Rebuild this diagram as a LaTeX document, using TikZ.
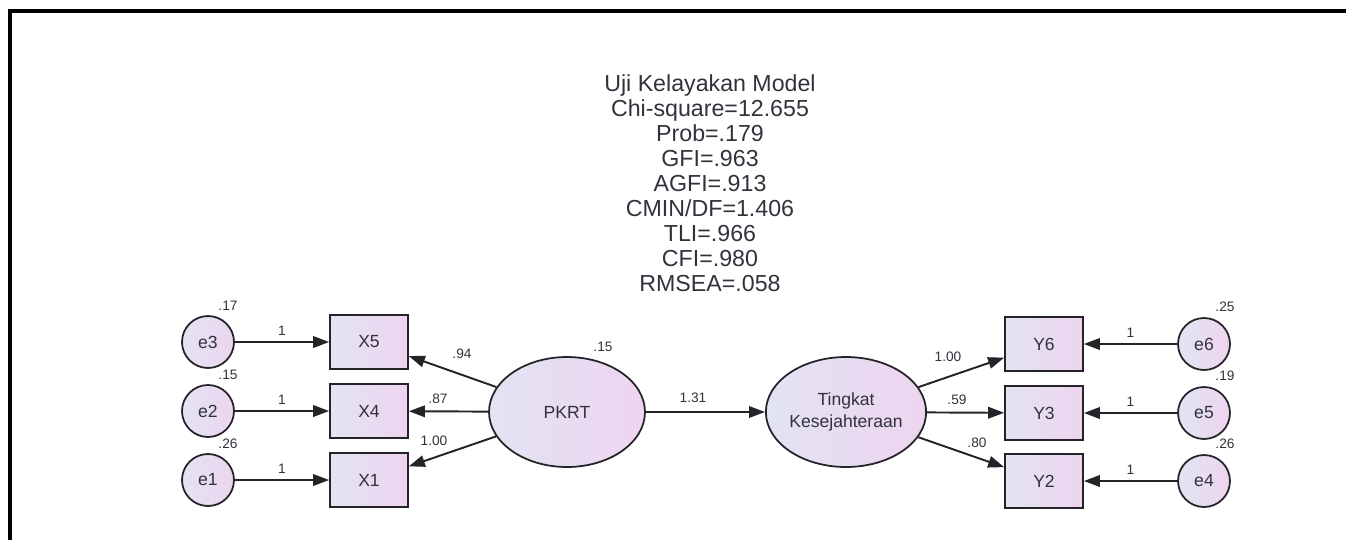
\documentclass[tikz,border=0pt]{standalone}
\usepackage{fontspec}
\setmainfont{Liberation Sans}
\usetikzlibrary{arrows.meta,shapes.geometric}

\definecolor{amosL}{RGB}{226,228,242}
\definecolor{amosR}{RGB}{238,212,240}
\definecolor{amosLine}{RGB}{35,35,40}
\definecolor{amosText}{RGB}{50,50,60}

\begin{document}
\begin{tikzpicture}[x=0.02cm, y=-0.02cm,
		obs/.style={draw=amosLine, line width=1pt, left color=amosL, right color=amosR,
			minimum width=1.56cm, minimum height=1.08cm, inner sep=0pt,
			font=\fontsize{10}{12}\selectfont, text=amosText},
		err/.style={circle, draw=amosLine, line width=1pt, left color=amosL, right color=amosR,
			minimum size=1.04cm, inner sep=0pt,
			font=\fontsize{10}{12}\selectfont, text=amosText},
		lat/.style={ellipse, draw=amosLine, line width=1pt, left color=amosL, right color=amosR,
			minimum width=3.12cm, minimum height=2.2cm, inner sep=0pt, align=center,
			font=\fontsize{10}{12.5}\selectfont, text=amosText},
		pth/.style={-{Triangle[length=3.2mm,width=2.3mm]}, line width=1.1pt, draw=amosLine},
		est/.style={font=\fontsize{7.8}{9}\selectfont, text=amosText, inner sep=1pt}]
		
		\useasboundingbox (0,0) rectangle (1346,539);
		\draw[line width=1.8pt] (10,580) -- (10,11) -- (1380,11);
		
		% fit statistics
		\node[align=center, font=\fontsize{13.2}{14.2}\selectfont, text=amosText] (fit) at (710,183)
		{Uji Kelayakan Model\\Chi-square=12.655\\Prob=.179\\GFI=.963\\AGFI=.913\\CMIN/DF=1.406\\TLI=.966\\CFI=.980\\RMSEA=.058};
		
		% latent variables
		\node[lat] (pkrt) at (567,412) {PKRT};
		\node[lat] (tk) at (846,412) {Tingkat\\Kesejahteraan};
		\node[est] (vpkrt) at (603,347) {.15};
		\draw[pth] (pkrt) -- (tk);
		\node[est] (b131) at (693,398) {1.31};
		
		% indicators of PKRT
		\foreach \n/\e/\y/\v in {X5/e3/342/.17, X4/e2/411/.15, X1/e1/480/.26} {
			\node[obs] (\n) at (369,\y) {\n};
			\node[err] (\e) at (208,\y) {\e};
			\draw[pth] (\e) -- node[est, above=2pt] {1} (\n);
			\draw[pth] (pkrt) -- (\n);
			\node[est] (v\e) at (228,\y-36) {\v};
		}
		\node[est] (l94) at (462,354) {.94};
		\node[est] (l87) at (438,399) {.87};
		\node[est] (l100x) at (434,441) {1.00};
		
		% indicators of Tingkat Kesejahteraan
		\foreach \n/\e/\y/\v in {Y6/e6/344/.25, Y3/e5/413/.19, Y2/e4/481/.26} {
			\node[obs] (\n) at (1044,\y) {\n};
			\node[err] (\e) at (1204,\y) {\e};
			\draw[pth] (\e) -- node[est, above=2pt] {1} (\n);
			\draw[pth] (tk) -- (\n);
			\node[est] (v\e) at (1225,\y-37) {\v};
		}
		\node[est] (l100y) at (948,357) {1.00};
		\node[est] (l59) at (957,400) {.59};
		\node[est] (l80) at (977,443) {.80};
		
	\end{tikzpicture}
\end{document}
